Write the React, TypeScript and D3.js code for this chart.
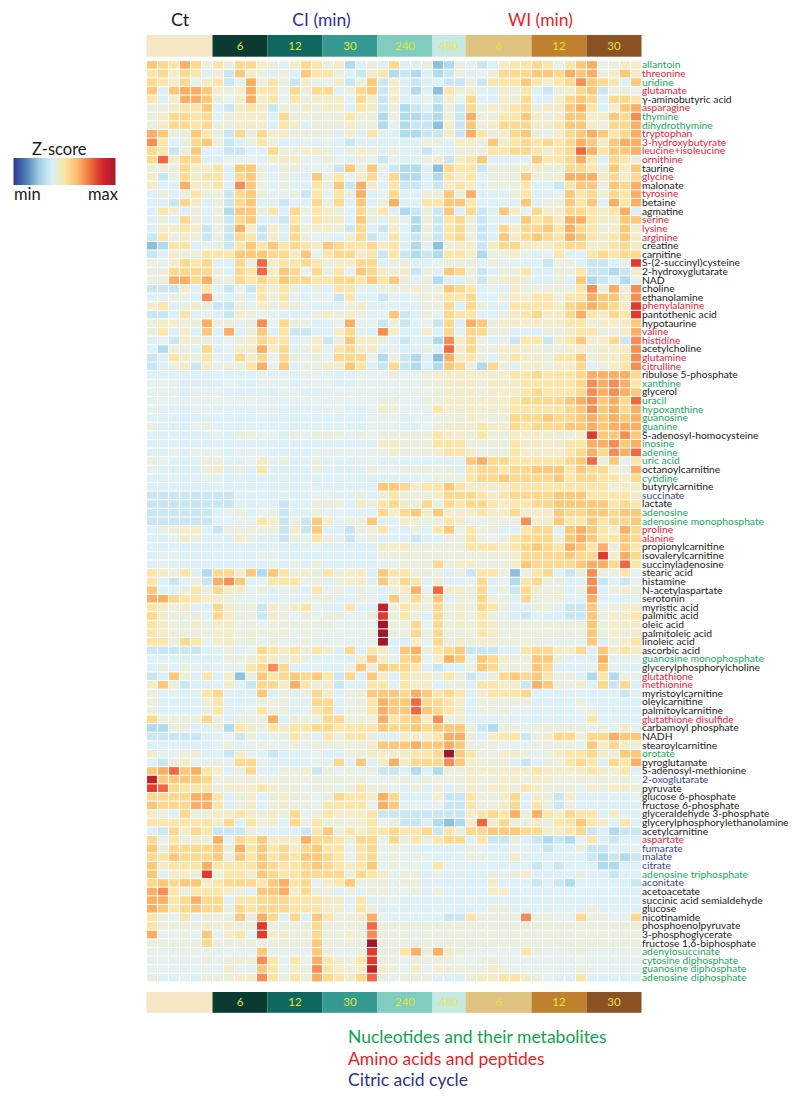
import React from 'react';
import * as d3 from 'd3';

const metabolites = ["allantoin","threonine","uridine","glutamate","γ-aminobutyric acid","asparagine","thymine","dihydrothymine","tryptophan","3-hydroxybutyrate","leucine+isoleucine","ornithine","taurine","glycine","malonate","tyrosine","betaine","agmatine","serine","lysine","arginine","creatine","carnitine","S-(2-succinyl)cysteine","2-hydroxyglutarate","NAD","choline","ethanolamine","phenylalanine","pantothenic acid","hypotaurine","valine","histidine","acetylcholine","glutamine","citrulline","ribulose 5-phosphate","xanthine","glycerol","uracil","hypoxanthine","guanosine","guanine","S-adenosyl-homocysteine","inosine","adenine","uric acid","octanoylcarnitine","cytidine","butyrylcarnitine","succinate","lactate","adenosine","adenosine monophosphate","proline","alanine","propionylcarnitine","isovalerylcarnitine","succinyladenosine","stearic acid","histamine","N-acetylaspartate","serotonin","myristic acid","palmitic acid","oleic acid","palmitoleic acid","linoleic acid","ascorbic acid","guanosine monophosphate","glycerylphosphorylcholine","glutathione","methionine","myristoylcarnitine","oleylcarnitine","palmitoylcarnitine","glutathione disulfide","carbamoyl phosphate","NADH","stearoylcarnitine","orotate","pyroglutamate","S-adenosyl-methionine","2-oxoglutarate","pyruvate","glucose 6-phosphate","fructose 6-phosphate","glyceraldehyde 3-phosphate","glycerylphosphorylethanolamine","acetylcarnitine","aspartate","fumarate","malate","citrate","adenosine triphosphate","aconitate","acetoacetate","succinic acid semialdehyde","glucose","nicotinamide","phosphoenolpyruvate","3-phosphoglycerate","fructose 1,6-biphosphate","adenylosuccinate","cytosine diphosphate","guanosine diphosphate","adenosine diphosphate"];

const nucleotides = ["allantoin","uridine","thymine","dihydrothymine","xanthine","uracil","hypoxanthine","guanosine","guanine","inosine","adenine","uric acid","cytidine","adenosine","adenosine monophosphate","guanosine monophosphate","orotate","adenosine triphosphate","adenylosuccinate","cytosine diphosphate","guanosine diphosphate","adenosine diphosphate"];
const aminoAcids = ["threonine","glutamate","asparagine","tryptophan","3-hydroxybutyrate","leucine+isoleucine","ornithine","glycine","tyrosine","serine","lysine","arginine","phenylalanine","valine","histidine","glutamine","citrulline","proline","alanine","glutathione","methionine","glutathione disulfide","aspartate"];
const citricCycle = ["succinate","2-oxoglutarate","fumarate","malate","citrate","aconitate"];

// Hex-digit z-score level per sample (0 = low, F = high), grouped by the annotation blocks
const zLevels = [
"987A85 75886 53687 56135 38335 015 423677 87479 A4566",
"786873 52965 35397 75326 71213 125 345888 998A9 A5696",
"876846 724A5 75264 46259 26323 322 527779 7678B 98739",
"939AA9 656A7 74858 83589 26313 075 633657 32568 92554",
"736AA9 546A6 74756 66386 26334 264 833658 33689 83887",
"556779 32676 25565 66376 25123 152 856678 5669A 7369A",
"568878 35666 38555 55755 15112 152 A55779 65699 6698B",
"568878 55666 37635 55655 14122 062 956888 66799 6588A",
"A95597 52858 66555 53637 33112 262 A75689 54689 A978A",
"B73589 52357 53343 43233 33335 536 659678 7878A 969AA",
"872593 32233 85566 53565 35332 335 557788 7678C A799A",
"8C6883 34443 66644 54354 24335 626 793333 9778A 73875",
"555866 73995 35544 42959 42113 087 725556 65588 75969",
"625867 73895 35339 57468 48113 176 735559 556AA A6868",
"633A66 73B95 35337 592A6 37223 267 635557 33279 95 98A",
"353575 52895 44527 47 5A3 48335 595 A33357 33497 8587A",
"332863 52893 32338 58393 5A337 799 733339 35597 93A7A",
"376353 51995 73857 65385 73125 293 823964 86688 767A3",
"353853 52893 32747 66395 36415 278 524339 786AA 76699",
"366762 52A62 63856 65283 26315 278 523868 897A8 75696",
"275652 52872 63854 43682 37325 278 523968 987A9 76796",
"017734 52797 97876 98778 67314 056 626886 66788 66786",
"236557 77999 88694 78867 27212 177 615564 34733 78788",
"546878 3385C 67787 56688 35533 455 535443 32553 2234D",
"558888 5387C 69848 57498 65625 398 523557 33557 22126",
"55AA8A 55878 79887 78879 79535 133 525665 33539 12314",
"222637 32427 57535 37743 55565 598 734365 55557 B5A5B",
"34543B 43537 57434 42733 24345 577 833566 77577 A996B",
"673565 22546 56543 33563 33335 583 853377 77689 A986D",
"223734 32654 43335 65653 49235 487 733567 8668A 7687D",
"56655A 5545B 48553 34A44 25234 283 A95666 66677 56669",
"573639 3A359 37223 36843 B6336 384 885533 35567 7556A",
"342655 34568 77346 25966 53233 1B6 853427 72679 6682B",
"315538 3466A 68356 47866 34335 3C6 855666 55566 5666B",
"237657 43868 48545 48884 15213 0A6 753676 65779 5667B",
"235626 4557A 49355 66973 28213 198 518536 65668 3567B",
"333333 33334 44344 43344 45445 666 666677 87778 AAAA8",
"444333 34334 44344 43344 44445 566 656667 77778 BABA7",
"444344 43333 34433 44444 44444 566 656667 87778 BABA9",
"444444 44444 44444 44444 55445 566 666678 8889A B9A8C",
"433344 33334 43333 44334 65444 766 666677 77789 B9A8A",
"333333 33333 33333 33334 44344 555 655588 89889 A9A9A",
"533345 33333 33333 33334 44334 566 676687 88899 A9AAA",
"333333 43554 43545 55454 55555 766 575566 66556 D99B9",
"333333 33333 33333 33333 66555 777 555576 66677 AAB9A",
"334344 43444 33334 44444 56555 677 655576 66678 A8BAC",
"543335 53346 45335 33344 33333 333 9A8877 77789 C5947",
"433335 63537 33335 33335 44555 553 788788 99979 8865A",
"333334 33333 33333 33333 33334 555 788988 88978 87768",
"333333 33333 33333 33333 99867 797 666677 77777 77566",
"222222 22333 33334 43353 57555 688 876788 88999 77776",
"222222 22333 32335 55365 78658 587 887677 88999 99787",
"222222 34534 52335 44333 86896 966 676686 66988 99899",
"222222 33447 62529 63559 33655 576 44555B 66977 97889",
"355663 25555 52629 33255 73353 794 755337 8839A 976A8",
"334653 33653 32547 54245 33323 355 754578 8859A 97798",
"333333 33333 43334 33333 66655 555 777678 987A9 7A597",
"344333 33334 43333 33333 55555 555 555568 88898 8D6A8",
"343333 33333 43435 33333 44555 856 655569 88889 AA8C7",
"765731 88691 97565 75663 97755 535 277505 78325 B5574",
"732352 AB934 77745 35663 96873 633 48 3417 85533 B2324",
"933575 86645 34537 45354 356A4 C66 583528 65535 B3565",
"AA8776 65443 34345 53354 39585 935 585538 55533 A3334",
"765633 86552 65674 33733 E5765 856 587533 55322 94566",
"865553 86552 65454 55445 D5753 856 575432 33322 95667",
"765565 66454 55555 54444 F5584 856 576555 55555 95666",
"765555 66555 55454 44445 F5585 855 576555 55555 95656",
"775874 66554 54454 44444 F3364 856 566555 54444 93567",
"222223 35348 76757 63837 639A5 789 222337 88668 39676",
"333333 35557 65653 33369 64894 6A9 498655 99533 3A444",
"353543 44478 B8334 33595 98873 233 598555 98333 49433",
"239537 36059 78989 72839 63766 575 235898 97553 17154",
"695233 36328 86A75 62337 73766 355 377662 A9556 38283",
"534337 83339 35358 63559 998A9 787 367778 33333 33323",
"533335 73335 55438 83457 A99C8 876 355555 33335 33333",
"533335 73347 55347 83557 A99C9 876 355544 33334 53333",
"855558 53555 A3555 88555 A7896 B56 333433 33333 73333",
"115533 51765 76778 87777 98898 999 521554 55555 45464",
"222223 34253 45753 75775 33666 7AA 536772 56885 88A99",
"333333 45345 44545 55556 999A9 9A9 555444 55554 96865",
"644553 32643 23334 33556 66677 8F9 755665 45677 86599",
"325644 54884 33334 48393 6A688 8B9 655532 35578 7387A",
"9AC9A7 63583 35562 54545 22313 155 666666 76666 76673",
"E99998 55555 55555 55554 45545 555 655665 66555 55554",
"DC8777 56667 65545 54575 54353 535 656657 65554 65665",
"8888AA 73563 56554 58776 A8333 622 755683 65263 33334",
"9888AA 73563 56554 77774 A9343 422 755683 75253 33333",
"653855 66765 65845 76667 22222 222 6787A5 A7687 73633",
"777777 68375 63857 55567 45223 101 6C6855 65779 76373",
"328687 22254 33327 95767 78778 275 889998 86678 23122",
"847565 A4879 666A8 87588 48575 788 372253 21214 73233",
"958888 95A79 78689 77478 45433 333 543344 32335 22334",
"879888 95979 78799 87478 45454 333 553363 33333 21212",
"96777A 77779 87789 87679 45443 743 333333 23233 31133",
"93665D 57769 87788 88587 64553 433 335456 33335 33233",
"898996 78887 9A784 67955 54553 333 336333 23213 33332",
"AB7577 76539 9A685 53535 54453 533 336633 33333 33333",
"AA78A8 83778 88777 66373 44333 333 433333 33333 33333",
"A97898 85878 88777 66475 33333 333 335533 33333 53333",
"754735 5595A 83839 7556A 43333 322 75555B 55448 55448",
"755556 5655D 55558 5555C 55555 555 555555 55555 55555",
"A44549 4674D 66558 5565B 55545 555 555555 55555 55555",
"555558 55555 55559 5555F 55555 555 555555 55555 55555",
"444444 44449 44449 5445D 557A5 A65 444447 54445 44444",
"444445 4565B 7474A 7657D 55455 554 455444 44444 44444",
"444444 46449 7465B 7656E 65464 655 556544 44445 44444",
"533435 5566B 7575A 8768C 54555 333 566776 54337 33333"
];

const blockLabels = ["", "6", "12", "30", "240", "480", "6", "12", "30"];
const blockSizes = [6, 5, 5, 5, 5, 3, 6, 5, 5];
const blockColors = ["#f5e7c3", "#0b3a30", "#0f685f", "#359a92", "#80cdc0", "#c7e9e4", "#dfc27f", "#bf812d", "#8b5224"];
const levelColors = ["#8cc0e0","#aedbee","#c9e7f3","#dcf0f8","#e4f1ee","#e9efdc","#f4ecc8","#fde5a8","#fed88c","#fec878","#fdae62","#f98c52","#f3663f","#e2392e","#c81f27","#a3172a"];
const rampStops = ["#2b3a92","#4f7fb5","#9fcde3","#d8eff6","#fbe5a3","#fdbd6d","#f2703f","#d6252c","#a51c2b"];
const legendItems = [
  { text: "Nucleotides and their metabolites", color: "#0da550" },
  { text: "Amino acids and peptides", color: "#ed1c24" },
  { text: "Citric acid cycle", color: "#2e3192" },
];

const FONT = "Lato, 'Open Sans', sans-serif";
const CLASS_GREEN = "#18a95b";
const CLASS_RED = "#f0203a";
const CLASS_BLUE = "#3d3f98";

export default function App() {
  const values = zLevels.map(r => Array.from(r.replace(/ /g, "")).map(c => parseInt(c, 16)));
  const nCols = 45;
  const left = 146.5, right = 641.5;
  const top = 60.6, bottom = 981.9;
  const x = d3.scaleBand<number>().domain(d3.range(nCols)).range([left, right]).paddingInner(0.1).paddingOuter(0.05);
  const y = d3.scaleBand<number>().domain(d3.range(metabolites.length)).range([top, bottom]).paddingInner(0.12).paddingOuter(0.06);
  const color = d3.scaleLinear<string>().domain(d3.range(levelColors.length)).range(levelColors).interpolate(d3.interpolateRgb);
  const blockX = d3.scaleLinear().domain([0, nCols]).range([left, right]);
  const starts = d3.cumsum([0, ...blockSizes]);
  const labelColor = (m: string) => nucleotides.includes(m) ? CLASS_GREEN : aminoAcids.includes(m) ? CLASS_RED : citricCycle.includes(m) ? CLASS_BLUE : "#1a1a1a";

  const blockBar = (y0: number, h: number, key: string) => (
    <g key={key}>
      {blockSizes.map((n, i) => {
        const a = blockX(starts[i]), b = blockX(starts[i] + n);
        return (
          <g key={i}>
            <rect x={a} y={y0} width={b - a} height={h} fill={blockColors[i]} />
            <text x={(a + b) / 2} y={y0 + h / 2 + 4} textAnchor="middle" fontSize={11.5} fontFamily={FONT}
              fill={i === 5 ? "#e8e85a" : "#e3e33c"}>{blockLabels[i]}</text>
          </g>
        );
      })}
    </g>
  );

  const rampScale = d3.scaleLinear().domain([0, rampStops.length - 1]).range([0, 100]);

  return (
    <svg width={800} height={1103} viewBox="0 0 800 1103" style={{ position: "absolute", left: 0, top: 0, background: "#fff" }}>
      <defs>
        <linearGradient id="ramp">
          {rampStops.map((c, i) => <stop key={i} offset={`${rampScale(i)}%`} stopColor={c} />)}
        </linearGradient>
      </defs>

      <text x={180} y={26} textAnchor="middle" fontSize={18} fontFamily={FONT} fill="#1a1a1a">Ct</text>
      <text x={321.5} y={26} textAnchor="middle" fontSize={17.5} fontFamily={FONT} fill="#2e3192">CI (min)</text>
      <text x={540.5} y={26} textAnchor="middle" fontSize={17.5} fontFamily={FONT} fill="#ed1c24">WI (min)</text>

      {blockBar(35, 21.7, "top")}
      {blockBar(992, 20.8, "bottom")}

      <g>
        {values.map((row, r) => row.map((v, c) => (
          <rect key={`${r}-${c}`} x={x(c)} y={y(r)} width={x.bandwidth()} height={y.bandwidth()} fill={color(v)} />
        )))}
      </g>

      <g fontFamily={FONT} fontSize={10.3}>
        {metabolites.map((m, r) => (
          <text key={m} x={642} y={(y(r) as number) + y.bandwidth() / 2 + 3.4} fill={labelColor(m)}>{m}</text>
        ))}
      </g>

      <text x={32} y={155} fontSize={16.5} fontFamily={FONT} fill="#1a1a1a">Z-score</text>
      <rect x={13.5} y={158} width={102} height={27} fill="url(#ramp)" />
      <text x={14} y={200} fontSize={16.5} fontFamily={FONT} fill="#1a1a1a">min</text>
      <text x={118} y={200} textAnchor="end" fontSize={16.5} fontFamily={FONT} fill="#1a1a1a">max</text>

      <g fontFamily={FONT} fontSize={17.5}>
        {legendItems.map((d, i) => (
          <text key={d.text} x={348} y={1043 + i * 21.5} fill={d.color}>{d.text}</text>
        ))}
      </g>
    </svg>
  );
}
